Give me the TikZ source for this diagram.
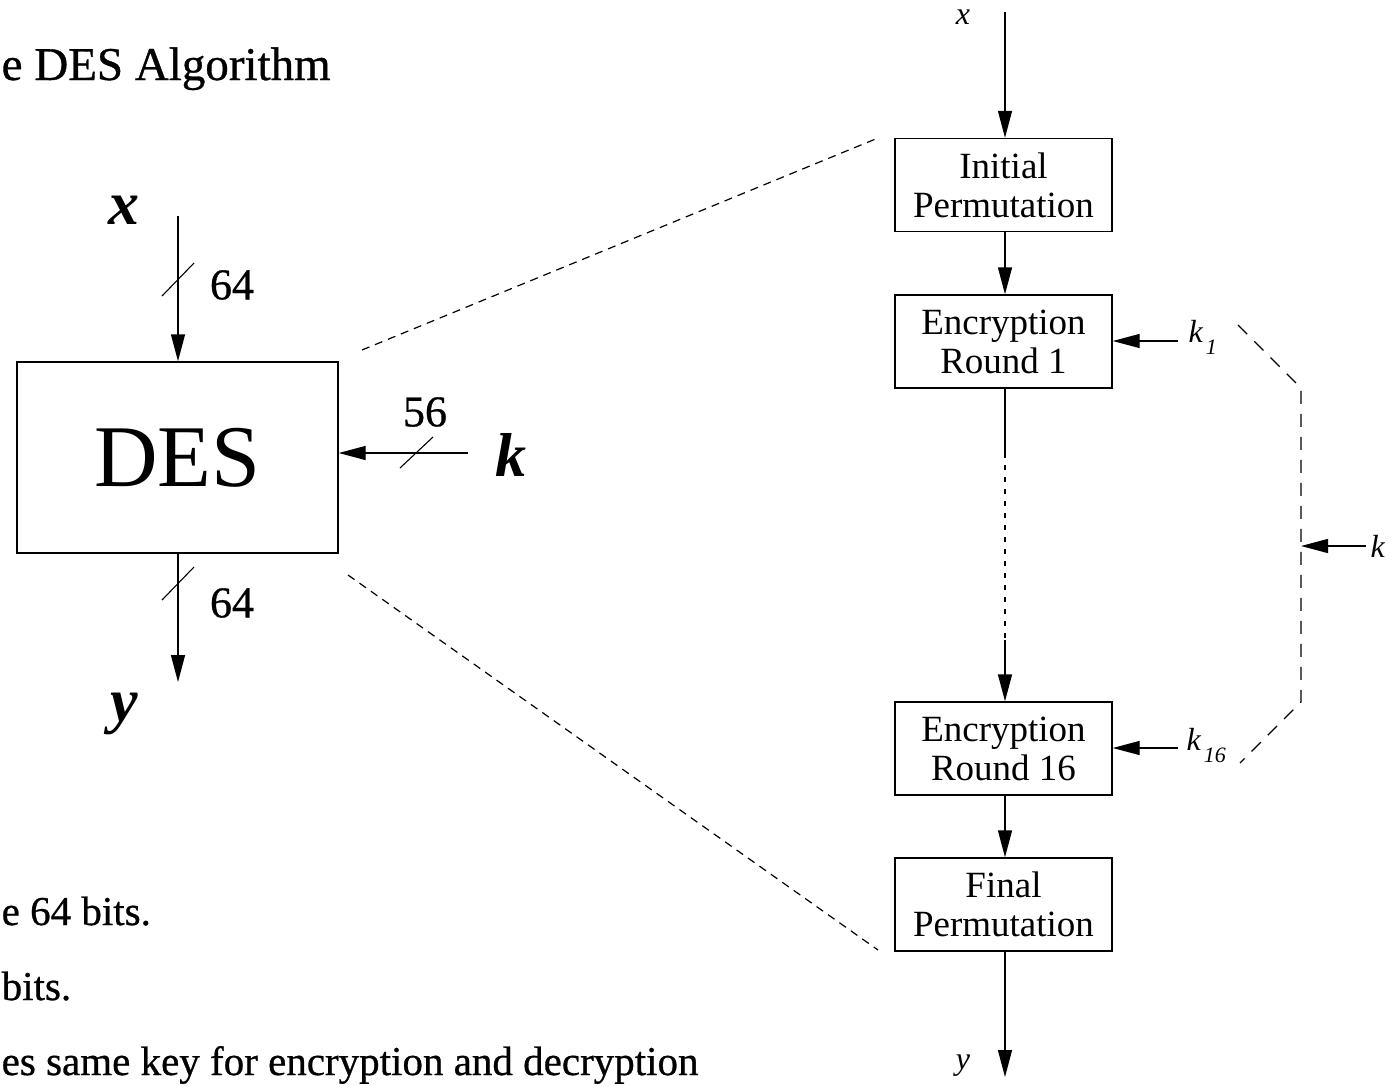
\documentclass[tikz,border=0pt]{standalone}
\usepackage{fontspec}
\setmainfont{Liberation Serif}
\newfontfamily\slidefont[FakeBold=0.7]{Liberation Serif}
\usetikzlibrary{arrows.meta}
\begin{document}
\begin{tikzpicture}[x=1pt,y=-1pt,
  line width=1.4pt,
  tip/.style={-{Triangle[length=27pt,width=14pt]}},
  stage/.style={draw, minimum width=217pt, minimum height=93pt, inner sep=0pt,
    align=center, font=\fontsize{37}{39}\selectfont},
  slide/.style={font=\slidefont\fontsize{41}{48}\selectfont, inner sep=0pt, anchor=base west},
  biglbl/.style={font=\fontsize{62}{62}\selectfont\bfseries\itshape},
  bitlbl/.style={font=\slidefont\fontsize{44}{44}\selectfont},
  smalllbl/.style={font=\fontsize{32}{32}\selectfont\itshape},
  zoomline/.style={line width=1.2pt, dash pattern=on 8pt off 6pt},
  keyline/.style={line width=1.2pt, dash pattern=on 13pt off 10pt},
]
\useasboundingbox (0,0) rectangle (1397,1085);

% slide text
\node[slide, font=\slidefont\fontsize{47}{52}\selectfont] (title) at (1,80) {e DES Algorithm};
\node[slide] (b1) at (1,925) {e 64 bits.};
\node[slide] (b2) at (1,1000) {bits.};
\node[slide] (b3) at (1,1075) {es same key for encryption and decryption};

% black-box view of DES
\node[draw, minimum width=321pt, minimum height=191pt, inner sep=0pt,
  font=\fontsize{88}{88}\selectfont] (des) at (177.5,457.5) {DES};
\coordinate (xin) at (178,216);
\coordinate (yout) at (178,682);
\coordinate (kin) at (468,453);
\draw[tip] (xin) -- (des.north -| xin);
\draw[tip] (des.south -| yout) -- (yout);
\draw[tip] (kin) -- (des.east |- kin);
% bus width marks
\draw[line width=1.1pt] (162,296) -- (194,263);
\draw[line width=1.1pt] (162,600) -- (194,567);
\draw[line width=1.1pt] (400,468) -- (433,437);
\node[bitlbl] (w1) at (232,285) {64};
\node[bitlbl] (w2) at (232,603) {64};
\node[bitlbl] (w3) at (425,412) {56};
\node[biglbl] (xl) at (124,210) {x};
\node[biglbl] (yl) at (124,714) {y};
\node[biglbl] (kl) at (511,455) {k};

% internal structure
\node[stage] (ip) at (1003.5,185) {Initial\\Permutation};
\node[stage] (r1) at (1003.5,341.5) {Encryption\\Round 1};
\node[stage] (r16) at (1003.5,748.5) {Encryption\\Round 16};
\node[stage] (fp) at (1003.5,904.5) {Final\\Permutation};
\coordinate (xtop) at (1005,12);
\coordinate (ybot) at (1005,1077);
\draw[tip] (xtop) -- (ip.north -| xtop);
\draw[tip] (ip.south -| xtop) -- (r1.north -| xtop);
\coordinate (m1) at (1005,453);
\coordinate (m2) at (1005,640);
\draw (r1.south -| m1) -- (m1);
\draw[line width=1.2pt, dash pattern=on 5pt off 7pt] (m1) -- (m2);
\draw[tip] (m2) -- (r16.north -| m2);
\draw[tip] (r16.south -| xtop) -- (fp.north -| xtop);
\draw[tip] (fp.south -| ybot) -- (ybot);
\node[smalllbl] (xs) at (963,17) {x};
\node[smalllbl] (ys) at (963,1066) {y};

% round keys
\coordinate (k1s) at (1178,341);
\coordinate (k16s) at (1178,748);
\draw[tip] (k1s) -- (r1.east |- k1s);
\draw[tip] (k16s) -- (r16.east |- k16s);
\node[smalllbl, anchor=west, inner sep=0pt] (k1l) at (1188,337) {k\hspace{3pt}\raisebox{-12pt}{\fontsize{22}{22}\selectfont 1}};
\node[smalllbl, anchor=west, inner sep=0pt] (k16l) at (1186,745) {k\hspace{3pt}\raisebox{-12pt}{\fontsize{22}{22}\selectfont 16}};
\coordinate (ka) at (1238,325);
\coordinate (kb) at (1301,388);
\coordinate (kc) at (1301,702);
\coordinate (kd) at (1240,763);
\draw[keyline] (ka) -- (kb) -- (kc) -- (kd);
\coordinate (kmid) at (1301,546);
\coordinate (kext) at (1366,546);
\draw[tip] (kext) -- (kmid);
\node[smalllbl, anchor=west, inner sep=0pt] (kk) at (1370,546) {k};

% zoom guides
\draw[zoomline] (362,350) -- (878,138);
\draw[zoomline] (348,575) -- (878,950);
\end{tikzpicture}
\end{document}
